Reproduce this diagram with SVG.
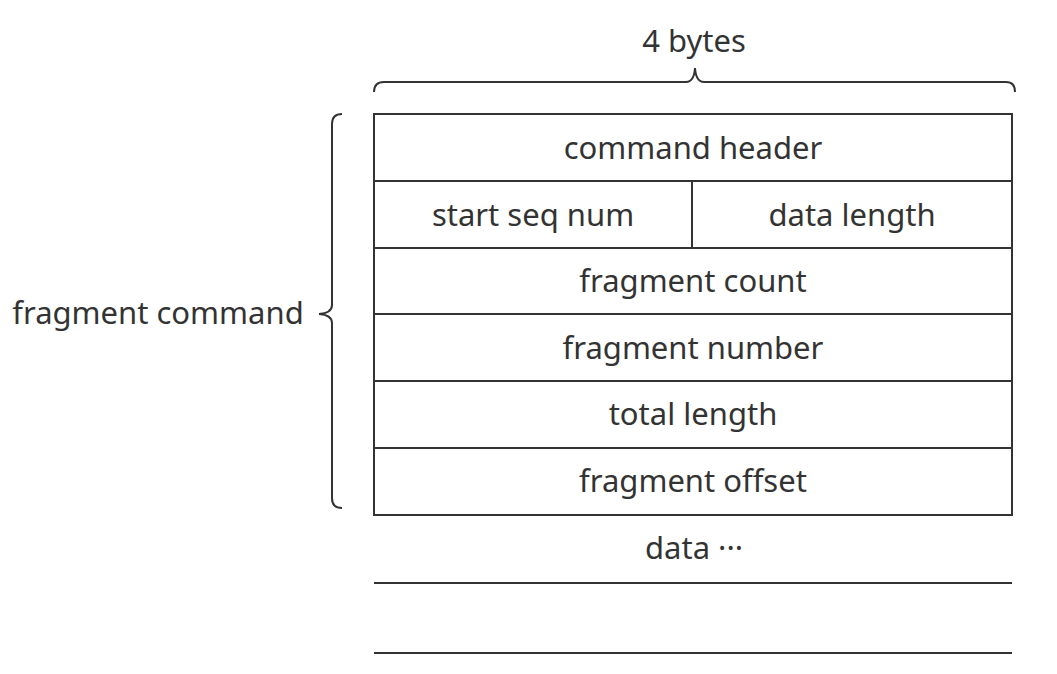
<svg xmlns="http://www.w3.org/2000/svg" width="1057" height="674" viewBox="0 0 1057 674">
<style>
text{font-family:"Noto Sans","Open Sans","DejaVu Sans",sans-serif;font-size:31px;fill:#333;text-anchor:middle;dominant-baseline:central}
.ln{stroke:#333;stroke-width:2;fill:none}
.cell{fill:#fff;stroke:#333;stroke-width:2}
</style>
<rect width="1057" height="674" fill="#fff"/>
<g id="label-4bytes"><text x="694" y="40">4 bytes</text></g>
<g id="brace-top"><path class="ln" d="M374,92 Q374,82 384,82 L686,82 Q694,82 695,68 Q696,82 704,82 L1006,82 Q1015,82 1015,92"/></g>
<g id="brace-left"><path class="ln" d="M342,114 Q332,114 332,124 L332,305 Q332,313 319,314 Q332,315 332,323 L332,498 Q332,508 342,508"/></g>
<g id="label-fragment-command"><text x="158" y="312">fragment command</text></g>
<g id="row-command-header"><rect class="cell" x="374" y="114" width="638" height="67"/><text x="693" y="147">command header</text></g>
<g id="row-start-seq-num"><rect class="cell" x="374" y="181" width="318" height="67"/><text x="533" y="214">start seq num</text></g>
<g id="row-data-length"><rect class="cell" x="692" y="181" width="320" height="67"/><text x="852" y="214">data length</text></g>
<g id="row-fragment-count"><rect class="cell" x="374" y="248" width="638" height="66"/><text x="693" y="280">fragment count</text></g>
<g id="row-fragment-number"><rect class="cell" x="374" y="314" width="638" height="67"/><text x="693" y="347">fragment number</text></g>
<g id="row-total-length"><rect class="cell" x="374" y="381" width="638" height="67"/><text x="693" y="413">total length</text></g>
<g id="row-fragment-offset"><rect class="cell" x="374" y="448" width="638" height="67"/><text x="693" y="480">fragment offset</text></g>
<g id="data-area"><text x="694" y="547">data ···</text><line class="ln" x1="374" y1="583" x2="1012" y2="583"/><line class="ln" x1="374" y1="653" x2="1012" y2="653"/></g>
</svg>
